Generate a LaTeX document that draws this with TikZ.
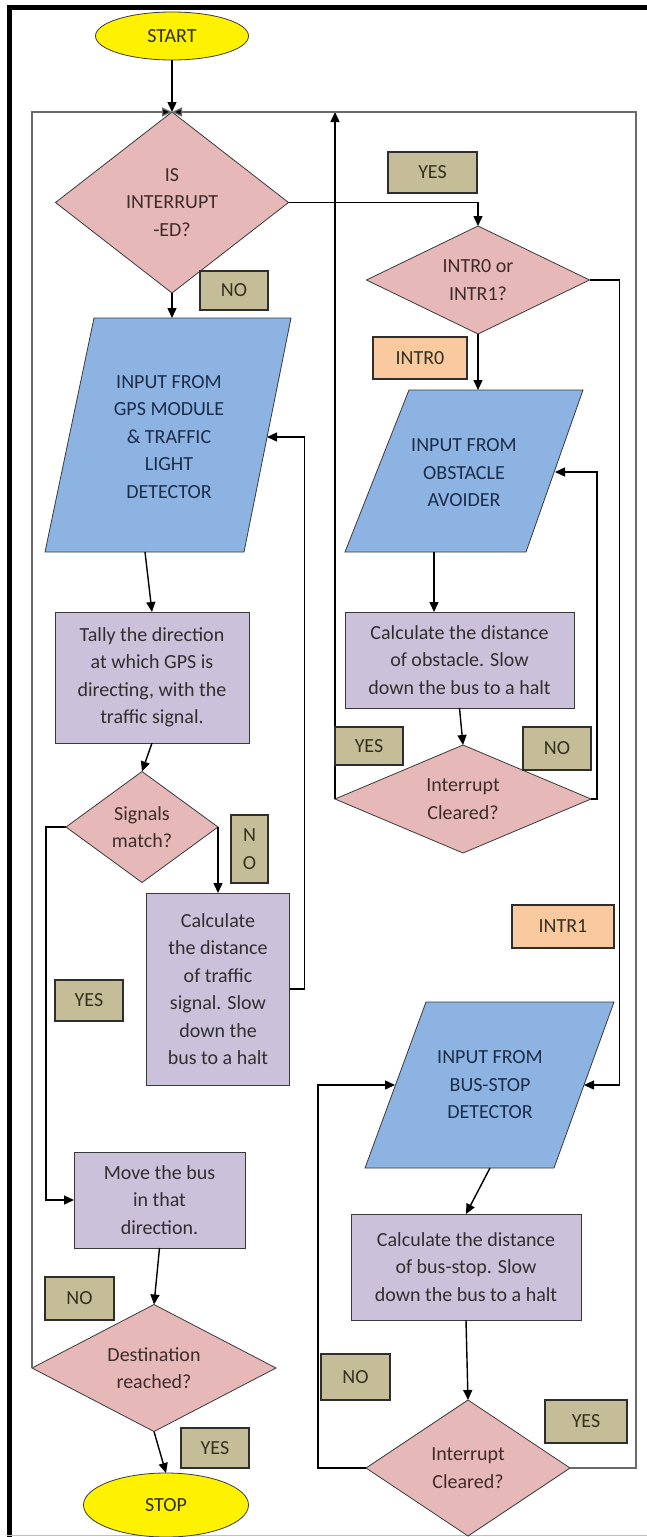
\documentclass[tikz,border=0pt]{standalone}
\usepackage{fontspec}
\setmainfont{Carlito}
\usetikzlibrary{shapes.geometric,arrows.meta}
\definecolor{pinkF}{HTML}{E6B9B8}
\definecolor{blueF}{HTML}{8DB3E2}
\definecolor{lavF}{HTML}{CCC1DA}
\definecolor{khakiF}{HTML}{C4BD97}
\definecolor{peachF}{HTML}{F9C9A0}
\definecolor{edgeC}{HTML}{3A3A3A}
\definecolor{labE}{HTML}{2E2E2E}
\definecolor{txtD}{HTML}{3E2C2C}
\definecolor{txtR}{HTML}{2F2F2F}
\definecolor{txtB}{HTML}{1C2D4A}
\definecolor{txtL}{HTML}{34321F}
\definecolor{loopC}{HTML}{6A6A6A}
\begin{document}
\begin{tikzpicture}[x=1pt,y=-1pt,
  every node/.style={font=\fontsize{20}{27.5}\selectfont, align=center, inner sep=0pt, outer sep=0pt},
  dia/.style={diamond, draw=edgeC, line width=0.8pt, fill=pinkF, text=txtD},
  box/.style={rectangle, draw=edgeC, line width=1pt, fill=lavF, text=txtR},
  para/.style={draw=edgeC, line width=0.8pt, fill=blueF},
  term/.style={ellipse, draw=edgeC, line width=0.8pt, fill=yellow, text=txtR},
  lab/.style={rectangle, draw=labE, line width=1.2pt, fill=khakiF, text=txtL},
  plab/.style={lab, fill=peachF},
  arr/.style={draw=black, line width=1.4pt, -{Triangle[length=10pt,width=9pt]}},
  looparr/.style={draw=loopC, line width=1.3pt, -{Triangle[length=10pt,width=9pt,fill=black]}}
]
\useasboundingbox (0,0) rectangle (647,1537);
\fill[white] (0,0) rectangle (647,1537);
% outer frame
\draw[line width=5pt] (9.5,1537) -- (9.5,7.3) -- (647,7.3);
\draw[gray!50, line width=1pt] (7,1535.5) -- (647,1535.5);

% terminals
\node[term, minimum width=153pt, minimum height=48pt] (start) at (172,36) {START};
\node[term, minimum width=165pt, minimum height=64pt] (stop) at (166,1505) {STOP};

% decisions
\node[dia, aspect=1.29, minimum width=233pt, minimum height=181pt] (isint) at (172,202.5) {IS\\INTERRUPT\\-ED?};
\node[dia, aspect=2, minimum width=223pt, minimum height=108pt] (intr) at (478,280) {INTR0 or\\INTR1?};
\node[dia, aspect=1.37, minimum width=152pt, minimum height=111pt] (sig) at (142,827) {Signals\\match?};
\node[dia, aspect=1.92, minimum width=244pt, minimum height=127pt] (dest) at (154,1368) {Destination\\reached?};
\node[dia, aspect=2.37, minimum width=256pt, minimum height=108pt] (icl1) at (463,799) {Interrupt\\Cleared?};
\node[dia, aspect=1.5, minimum width=204pt, minimum height=136pt] (icl2) at (468,1468) {Interrupt\\Cleared?};

% input parallelograms
\path[para] (94,318) -- (291,318) -- (244,552) -- (45,552) -- cycle;
\node[text=txtB] (gps) at (169,437) {INPUT FROM\\GPS MODULE\\\& TRAFFIC\\LIGHT\\DETECTOR};
\coordinate (gpsT) at (172,318);
\coordinate (gpsB) at (145,552);
\coordinate (gpsR) at (267,437);

\path[para] (409,390) -- (583,390) -- (526,552) -- (345,552) -- cycle;
\node[text=txtB] (obst) at (464,473) {INPUT FROM\\OBSTACLE\\AVOIDER};
\coordinate (obsT) at (478,390);
\coordinate (obsB) at (434,552);
\coordinate (obsR) at (555,472);

\path[para] (426,1002) -- (614,1002) -- (554,1168) -- (365,1168) -- cycle;
\node[text=txtB] (bus) at (490,1085) {INPUT FROM\\BUS-STOP\\DETECTOR};
\coordinate (busL) at (395,1085);
\coordinate (busR) at (584,1085);
\coordinate (busB) at (490,1168);

% process boxes
\node[box, minimum width=194pt, minimum height=131pt] (tally) at (152,677.5) {Tally the direction\\at which GPS is\\directing, with the\\traffic signal.};
\node[box, minimum width=143pt, minimum height=192pt] (ctraf) at (218,989) {Calculate\\the distance\\of traffic\\signal. Slow\\down the\\bus to a halt};
\node[box, minimum width=171pt, minimum height=96pt] (move) at (159.5,1200) {Move the bus\\in that\\direction.};
\node[box, minimum width=229pt, minimum height=96pt] (cobs) at (459.5,660) {Calculate the distance\\of obstacle. Slow\\down the bus to a halt};
\node[box, minimum width=230pt, minimum height=106pt] (cbus) at (466,1267) {Calculate the distance\\of bus-stop. Slow\\down the bus to a halt};

% helper coordinates
\coordinate (ytop) at (335,112);
\coordinate (rb) at (636,1468);

% connectors
\draw[arr] (start.south) -- (isint.north);
\draw[arr] (isint.south) -- (gpsT);
\draw[arr] (isint.east) -| (intr.north);
\draw[arr] (intr.south) -- (obsT);
\draw[arr] (intr.east) -- ++(30,0) |- (busR);
\draw[arr] (gpsB) -- (tally.north);
\draw[arr] (tally.south) -- (sig.north);
\draw[arr] (sig.west) -- ++(-20,0) |- (move.west);
\draw[arr] (sig.east) -- (ctraf.north);
\draw[arr] (ctraf.east) -- ++(15,0) |- (gpsR);
\draw[arr] (move.south) -- (dest.north);
\draw[arr] (dest.south) -- (stop.north);
\draw[arr] (obsB) -- (obsB |- cobs.north);
\draw[arr] (cobs.south) -- (icl1.north);
\draw[arr] (icl1.west) -- (ytop);
\draw[arr] (icl1.east) -- ++(6,0) |- (obsR);
\draw[arr] (busB) -- (cbus.north);
\draw[arr] (cbus.south) -- (icl2.north);
\draw[arr] (icl2.west) -- ++(-48,0) |- (busL);
\draw[looparr] (dest.west) |- (isint.north);
\draw[looparr] (icl2.east) -- (rb) |- (isint.north);

% labels
\node[lab, minimum width=68pt, minimum height=39pt] (no1) at (234,290.5) {NO};
\node[lab, minimum width=89pt, minimum height=41pt] (yes1) at (432.5,172.5) {YES};
\node[plab, minimum width=94pt, minimum height=42pt] (l0) at (420,358) {INTR0};
\node[plab, minimum width=102pt, minimum height=43pt] (l1) at (563,926.5) {INTR1};
\node[lab, minimum width=68pt, minimum height=38pt] (yes2) at (369,746) {YES};
\node[lab, minimum width=68pt, minimum height=43pt] (no3) at (557,748.5) {NO};
\node[lab, minimum width=37pt, minimum height=68pt] (no2) at (249.5,849) {N\\O};
\node[lab, minimum width=68pt, minimum height=41pt] (yes3) at (89,1000.5) {YES};
\node[lab, minimum width=69pt, minimum height=43pt] (no4) at (79.5,1298.5) {NO};
\node[lab, minimum width=68pt, minimum height=40pt] (yes4) at (215,1448) {YES};
\node[lab, minimum width=69pt, minimum height=46pt] (no5) at (355.5,1377) {NO};
\node[lab, minimum width=82pt, minimum height=43pt] (yes5) at (586,1421.5) {YES};
\end{tikzpicture}
\end{document}
